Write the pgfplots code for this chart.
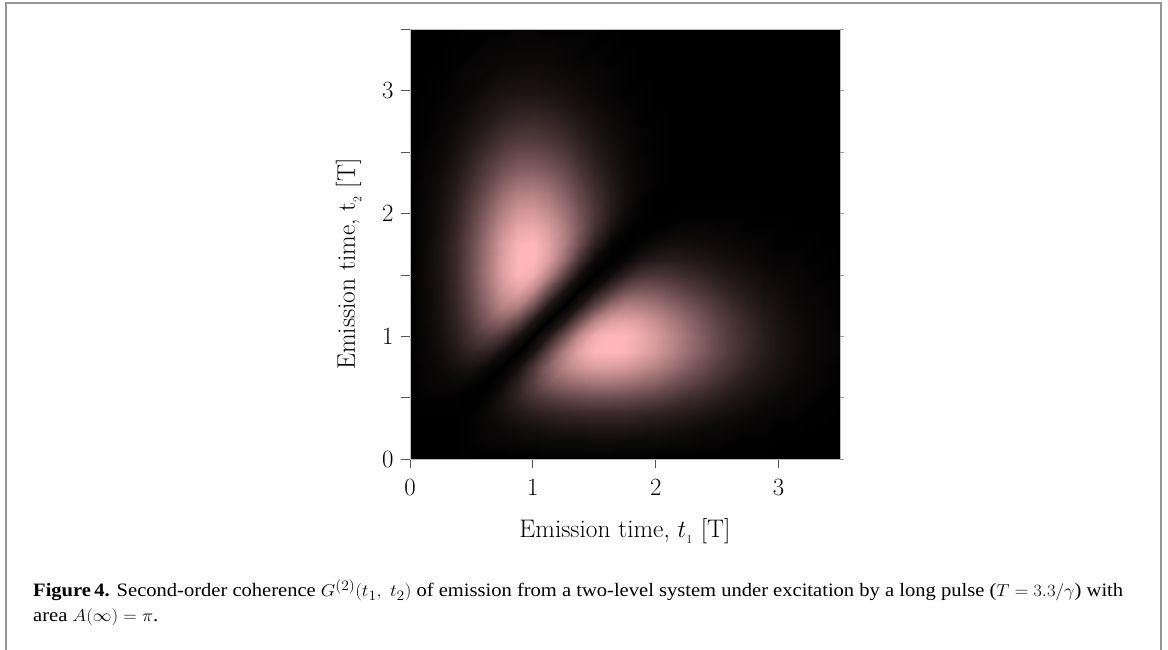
\documentclass[border=0pt]{standalone}
\usepackage{fontspec}
\usepackage{pgfplots}
\pgfplotsset{compat=1.18}
\newfontfamily\capfont{Liberation Serif}
\definecolor{framegray}{RGB}{150,150,150}
\definecolor{tickgray}{RGB}{85,85,85}
\newsavebox\caplineA
\begin{document}
\sbox\caplineA{\capfont\fontsize{19}{23}\selectfont\textbf{Figure\,4.} Second-order coherence $G^{(2)}(t_{1},\ t_{2})$ of emission from a two-level system under excitation by a long pulse ($T=3.3/\gamma$) with}%
\pgfmathsetmacro\capsx{1090/(\wd\caplineA/1.00375)}%
\begin{tikzpicture}[x=1bp,y=1bp]
\path[use as bounding box] (0,0) rectangle (1168,650);
\draw[framegray, line width=1.6bp] (6,0) -- (6,647) -- (1161,647) -- (1161,0);
\node[anchor=base west, inner sep=0] at (33,53) {\scalebox{\capsx}[1]{\usebox\caplineA}};
\node[anchor=base west, inner sep=0] at (33,28) {\scalebox{\capsx}[1]{\capfont\fontsize{19}{23}\selectfont area $A(\infty)=\pi$.}};
\begin{axis}[
  at={(410bp,190.7bp)}, anchor=south west,
  width=430bp, height=430bp, scale only axis,
  view={0}{90},
  xmin=0, xmax=3.5, ymin=0, ymax=3.5,
  xtick={0,1,2,3}, ytick={0,1,2,3}, ztick=\empty,
  minor ytick={0.5,1.5,2.5,3.5},
  xtick pos=left, ytick pos=left,
  tick align=outside,
  major tick length=9bp, minor tick length=9bp,
  every tick/.style={tickgray, line width=0.9bp},
  axis line style={gray!50, line width=0.4bp},
  colormap={pinkmap}{rgb255=(0,0,0) rgb255=(255,183,186)},
  point meta min=0, point meta max=0.96,
  tick label style={font=\fontsize{25.5}{30}\selectfont},
  xticklabel style={yshift=-8bp}, yticklabel style={xshift=-4bp},
  xlabel={Emission time, $t_{_1}$ [T]},
  ylabel={Emission time, t$_{_2}$ [T]},
  every axis x label/.style={at={(axis description cs:0.5,-0.181)}, anchor=base, font=\fontsize{25.5}{30}\selectfont},
  every axis y label/.style={at={(axis description cs:-0.128,0.454)}, rotate=90, anchor=base, font=\fontsize{25.5}{30}\selectfont},
]
\addplot3[surf, shader=interp, z buffer=none, mesh/cols=29] table[row sep=\\] {
x y z\\
0 3.5 0\\ 0.125 3.5 0\\ 0.25 3.5 0\\ 0.375 3.5 0\\ 0.5 3.5 0.01\\ 0.625 3.5 0.01\\ 0.75 3.5 0.01\\ 0.875 3.5 0.02\\ 1 3.5 0.02\\ 1.125 3.5 0.01\\ 1.25 3.5 0.01\\ 1.375 3.5 0.01\\ 1.5 3.5 0.01\\ 1.625 3.5 0\\ 1.75 3.5 0\\ 1.875 3.5 0\\ 2 3.5 0\\ 2.125 3.5 0\\ 2.25 3.5 0\\ 2.375 3.5 0\\ 2.5 3.5 0\\ 2.625 3.5 0\\ 2.75 3.5 0\\ 2.875 3.5 0\\ 3 3.5 0\\ 3.125 3.5 0\\ 3.25 3.5 0\\ 3.375 3.5 0\\ 3.5 3.5 0\\
0 3.375 0\\ 0.125 3.375 0\\ 0.25 3.375 0\\ 0.375 3.375 0.01\\ 0.5 3.375 0.01\\ 0.625 3.375 0.02\\ 0.75 3.375 0.02\\ 0.875 3.375 0.03\\ 1 3.375 0.03\\ 1.125 3.375 0.03\\ 1.25 3.375 0.02\\ 1.375 3.375 0.02\\ 1.5 3.375 0.01\\ 1.625 3.375 0.01\\ 1.75 3.375 0\\ 1.875 3.375 0\\ 2 3.375 0\\ 2.125 3.375 0\\ 2.25 3.375 0\\ 2.375 3.375 0\\ 2.5 3.375 0\\ 2.625 3.375 0\\ 2.75 3.375 0\\ 2.875 3.375 0\\ 3 3.375 0\\ 3.125 3.375 0\\ 3.25 3.375 0\\ 3.375 3.375 0\\ 3.5 3.375 0\\
0 3.25 0\\ 0.125 3.25 0\\ 0.25 3.25 0\\ 0.375 3.25 0.01\\ 0.5 3.25 0.02\\ 0.625 3.25 0.03\\ 0.75 3.25 0.04\\ 0.875 3.25 0.04\\ 1 3.25 0.04\\ 1.125 3.25 0.04\\ 1.25 3.25 0.03\\ 1.375 3.25 0.02\\ 1.5 3.25 0.02\\ 1.625 3.25 0.01\\ 1.75 3.25 0.01\\ 1.875 3.25 0\\ 2 3.25 0\\ 2.125 3.25 0\\ 2.25 3.25 0\\ 2.375 3.25 0\\ 2.5 3.25 0\\ 2.625 3.25 0\\ 2.75 3.25 0\\ 2.875 3.25 0\\ 3 3.25 0\\ 3.125 3.25 0\\ 3.25 3.25 0\\ 3.375 3.25 0\\ 3.5 3.25 0\\
0 3.125 0\\ 0.125 3.125 0\\ 0.25 3.125 0.01\\ 0.375 3.125 0.02\\ 0.5 3.125 0.03\\ 0.625 3.125 0.04\\ 0.75 3.125 0.06\\ 0.875 3.125 0.07\\ 1 3.125 0.07\\ 1.125 3.125 0.06\\ 1.25 3.125 0.05\\ 1.375 3.125 0.04\\ 1.5 3.125 0.03\\ 1.625 3.125 0.02\\ 1.75 3.125 0.01\\ 1.875 3.125 0\\ 2 3.125 0\\ 2.125 3.125 0\\ 2.25 3.125 0\\ 2.375 3.125 0\\ 2.5 3.125 0\\ 2.625 3.125 0\\ 2.75 3.125 0\\ 2.875 3.125 0\\ 3 3.125 0\\ 3.125 3.125 0\\ 3.25 3.125 0\\ 3.375 3.125 0\\ 3.5 3.125 0\\
0 3 0\\ 0.125 3 0\\ 0.25 3 0.01\\ 0.375 3 0.02\\ 0.5 3 0.04\\ 0.625 3 0.07\\ 0.75 3 0.09\\ 0.875 3 0.1\\ 1 3 0.1\\ 1.125 3 0.09\\ 1.25 3 0.08\\ 1.375 3 0.06\\ 1.5 3 0.04\\ 1.625 3 0.02\\ 1.75 3 0.01\\ 1.875 3 0.01\\ 2 3 0\\ 2.125 3 0\\ 2.25 3 0\\ 2.375 3 0\\ 2.5 3 0\\ 2.625 3 0\\ 2.75 3 0\\ 2.875 3 0\\ 3 3 0\\ 3.125 3 0\\ 3.25 3 0\\ 3.375 3 0\\ 3.5 3 0\\
0 2.875 0\\ 0.125 2.875 0.01\\ 0.25 2.875 0.02\\ 0.375 2.875 0.03\\ 0.5 2.875 0.06\\ 0.625 2.875 0.1\\ 0.75 2.875 0.13\\ 0.875 2.875 0.15\\ 1 2.875 0.15\\ 1.125 2.875 0.14\\ 1.25 2.875 0.11\\ 1.375 2.875 0.08\\ 1.5 2.875 0.06\\ 1.625 2.875 0.03\\ 1.75 2.875 0.02\\ 1.875 2.875 0.01\\ 2 2.875 0\\ 2.125 2.875 0\\ 2.25 2.875 0\\ 2.375 2.875 0\\ 2.5 2.875 0\\ 2.625 2.875 0\\ 2.75 2.875 0\\ 2.875 2.875 0\\ 3 2.875 0\\ 3.125 2.875 0\\ 3.25 2.875 0\\ 3.375 2.875 0\\ 3.5 2.875 0\\
0 2.75 0\\ 0.125 2.75 0.01\\ 0.25 2.75 0.02\\ 0.375 2.75 0.05\\ 0.5 2.75 0.09\\ 0.625 2.75 0.13\\ 0.75 2.75 0.18\\ 0.875 2.75 0.21\\ 1 2.75 0.22\\ 1.125 2.75 0.2\\ 1.25 2.75 0.16\\ 1.375 2.75 0.12\\ 1.5 2.75 0.08\\ 1.625 2.75 0.05\\ 1.75 2.75 0.03\\ 1.875 2.75 0.01\\ 2 2.75 0.01\\ 2.125 2.75 0\\ 2.25 2.75 0\\ 2.375 2.75 0\\ 2.5 2.75 0\\ 2.625 2.75 0\\ 2.75 2.75 0\\ 2.875 2.75 0\\ 3 2.75 0\\ 3.125 2.75 0\\ 3.25 2.75 0\\ 3.375 2.75 0\\ 3.5 2.75 0\\
0 2.625 0\\ 0.125 2.625 0.01\\ 0.25 2.625 0.03\\ 0.375 2.625 0.07\\ 0.5 2.625 0.12\\ 0.625 2.625 0.18\\ 0.75 2.625 0.25\\ 0.875 2.625 0.29\\ 1 2.625 0.29\\ 1.125 2.625 0.27\\ 1.25 2.625 0.22\\ 1.375 2.625 0.16\\ 1.5 2.625 0.11\\ 1.625 2.625 0.07\\ 1.75 2.625 0.04\\ 1.875 2.625 0.02\\ 2 2.625 0.01\\ 2.125 2.625 0\\ 2.25 2.625 0\\ 2.375 2.625 0\\ 2.5 2.625 0\\ 2.625 2.625 0\\ 2.75 2.625 0\\ 2.875 2.625 0\\ 3 2.625 0\\ 3.125 2.625 0\\ 3.25 2.625 0\\ 3.375 2.625 0\\ 3.5 2.625 0\\
0 2.5 0\\ 0.125 2.5 0.02\\ 0.25 2.5 0.04\\ 0.375 2.5 0.09\\ 0.5 2.5 0.16\\ 0.625 2.5 0.24\\ 0.75 2.5 0.32\\ 0.875 2.5 0.38\\ 1 2.5 0.38\\ 1.125 2.5 0.35\\ 1.25 2.5 0.29\\ 1.375 2.5 0.21\\ 1.5 2.5 0.14\\ 1.625 2.5 0.09\\ 1.75 2.5 0.05\\ 1.875 2.5 0.02\\ 2 2.5 0.01\\ 2.125 2.5 0\\ 2.25 2.5 0\\ 2.375 2.5 0\\ 2.5 2.5 0\\ 2.625 2.5 0\\ 2.75 2.5 0\\ 2.875 2.5 0\\ 3 2.5 0\\ 3.125 2.5 0\\ 3.25 2.5 0\\ 3.375 2.5 0\\ 3.5 2.5 0\\
0 2.375 0\\ 0.125 2.375 0.02\\ 0.25 2.375 0.05\\ 0.375 2.375 0.11\\ 0.5 2.375 0.2\\ 0.625 2.375 0.31\\ 0.75 2.375 0.41\\ 0.875 2.375 0.48\\ 1 2.375 0.49\\ 1.125 2.375 0.44\\ 1.25 2.375 0.37\\ 1.375 2.375 0.27\\ 1.5 2.375 0.18\\ 1.625 2.375 0.11\\ 1.75 2.375 0.06\\ 1.875 2.375 0.03\\ 2 2.375 0.01\\ 2.125 2.375 0\\ 2.25 2.375 0\\ 2.375 2.375 0\\ 2.5 2.375 0\\ 2.625 2.375 0\\ 2.75 2.375 0\\ 2.875 2.375 0\\ 3 2.375 0\\ 3.125 2.375 0\\ 3.25 2.375 0\\ 3.375 2.375 0\\ 3.5 2.375 0\\
0 2.25 0\\ 0.125 2.25 0.03\\ 0.25 2.25 0.07\\ 0.375 2.25 0.14\\ 0.5 2.25 0.24\\ 0.625 2.25 0.37\\ 0.75 2.25 0.5\\ 0.875 2.25 0.59\\ 1 2.25 0.6\\ 1.125 2.25 0.55\\ 1.25 2.25 0.45\\ 1.375 2.25 0.33\\ 1.5 2.25 0.22\\ 1.625 2.25 0.13\\ 1.75 2.25 0.07\\ 1.875 2.25 0.03\\ 2 2.25 0.01\\ 2.125 2.25 0\\ 2.25 2.25 0\\ 2.375 2.25 0\\ 2.5 2.25 0\\ 2.625 2.25 0\\ 2.75 2.25 0\\ 2.875 2.25 0\\ 3 2.25 0\\ 3.125 2.25 0\\ 3.25 2.25 0\\ 3.375 2.25 0\\ 3.5 2.25 0\\
0 2.125 0\\ 0.125 2.125 0.03\\ 0.25 2.125 0.08\\ 0.375 2.125 0.16\\ 0.5 2.125 0.29\\ 0.625 2.125 0.44\\ 0.75 2.125 0.6\\ 0.875 2.125 0.7\\ 1 2.125 0.71\\ 1.125 2.125 0.65\\ 1.25 2.125 0.53\\ 1.375 2.125 0.39\\ 1.5 2.125 0.26\\ 1.625 2.125 0.15\\ 1.75 2.125 0.07\\ 1.875 2.125 0.02\\ 2 2.125 0\\ 2.125 2.125 0\\ 2.25 2.125 0\\ 2.375 2.125 0\\ 2.5 2.125 0\\ 2.625 2.125 0\\ 2.75 2.125 0\\ 2.875 2.125 0\\ 3 2.125 0\\ 3.125 2.125 0\\ 3.25 2.125 0\\ 3.375 2.125 0\\ 3.5 2.125 0\\
0 2 0\\ 0.125 2 0.04\\ 0.25 2 0.09\\ 0.375 2 0.18\\ 0.5 2 0.33\\ 0.625 2 0.51\\ 0.75 2 0.68\\ 0.875 2 0.8\\ 1 2 0.81\\ 1.125 2 0.74\\ 1.25 2 0.61\\ 1.375 2 0.44\\ 1.5 2 0.28\\ 1.625 2 0.14\\ 1.75 2 0.05\\ 1.875 2 0.01\\ 2 2 0\\ 2.125 2 0\\ 2.25 2 0.01\\ 2.375 2 0.01\\ 2.5 2 0.01\\ 2.625 2 0.01\\ 2.75 2 0.01\\ 2.875 2 0\\ 3 2 0\\ 3.125 2 0\\ 3.25 2 0\\ 3.375 2 0\\ 3.5 2 0\\
0 1.875 0\\ 0.125 1.875 0.04\\ 0.25 1.875 0.1\\ 0.375 1.875 0.2\\ 0.5 1.875 0.36\\ 0.625 1.875 0.56\\ 0.75 1.875 0.75\\ 0.875 1.875 0.88\\ 1 1.875 0.9\\ 1.125 1.875 0.82\\ 1.25 1.875 0.66\\ 1.375 1.875 0.46\\ 1.5 1.875 0.26\\ 1.625 1.875 0.1\\ 1.75 1.875 0.02\\ 1.875 1.875 0\\ 2 1.875 0.01\\ 2.125 1.875 0.02\\ 2.25 1.875 0.03\\ 2.375 1.875 0.03\\ 2.5 1.875 0.02\\ 2.625 1.875 0.02\\ 2.75 1.875 0.01\\ 2.875 1.875 0.01\\ 3 1.875 0.01\\ 3.125 1.875 0\\ 3.25 1.875 0\\ 3.375 1.875 0\\ 3.5 1.875 0\\
0 1.75 0\\ 0.125 1.75 0.04\\ 0.25 1.75 0.11\\ 0.375 1.75 0.22\\ 0.5 1.75 0.39\\ 0.625 1.75 0.6\\ 0.75 1.75 0.81\\ 0.875 1.75 0.94\\ 1 1.75 0.96\\ 1.125 1.75 0.86\\ 1.25 1.75 0.67\\ 1.375 1.75 0.41\\ 1.5 1.75 0.17\\ 1.625 1.75 0.03\\ 1.75 1.75 0\\ 1.875 1.75 0.02\\ 2 1.75 0.05\\ 2.125 1.75 0.07\\ 2.25 1.75 0.07\\ 2.375 1.75 0.06\\ 2.5 1.75 0.05\\ 2.625 1.75 0.04\\ 2.75 1.75 0.03\\ 2.875 1.75 0.02\\ 3 1.75 0.01\\ 3.125 1.75 0.01\\ 3.25 1.75 0.01\\ 3.375 1.75 0\\ 3.5 1.75 0\\
0 1.625 0\\ 0.125 1.625 0.05\\ 0.25 1.625 0.11\\ 0.375 1.625 0.22\\ 0.5 1.625 0.4\\ 0.625 1.625 0.62\\ 0.75 1.625 0.83\\ 0.875 1.625 0.97\\ 1 1.625 0.97\\ 1.125 1.625 0.83\\ 1.25 1.625 0.57\\ 1.375 1.625 0.26\\ 1.5 1.625 0.05\\ 1.625 1.625 0\\ 1.75 1.625 0.03\\ 1.875 1.625 0.1\\ 2 1.625 0.14\\ 2.125 1.625 0.15\\ 2.25 1.625 0.13\\ 2.375 1.625 0.11\\ 2.5 1.625 0.09\\ 2.625 1.625 0.07\\ 2.75 1.625 0.05\\ 2.875 1.625 0.03\\ 3 1.625 0.02\\ 3.125 1.625 0.02\\ 3.25 1.625 0.01\\ 3.375 1.625 0.01\\ 3.5 1.625 0\\
0 1.5 0\\ 0.125 1.5 0.05\\ 0.25 1.5 0.11\\ 0.375 1.5 0.22\\ 0.5 1.5 0.4\\ 0.625 1.5 0.62\\ 0.75 1.5 0.83\\ 0.875 1.5 0.95\\ 1 1.5 0.91\\ 1.125 1.5 0.69\\ 1.25 1.5 0.35\\ 1.375 1.5 0.08\\ 1.5 1.5 0\\ 1.625 1.5 0.05\\ 1.75 1.5 0.17\\ 1.875 1.5 0.26\\ 2 1.5 0.28\\ 2.125 1.5 0.26\\ 2.25 1.5 0.22\\ 2.375 1.5 0.18\\ 2.5 1.5 0.14\\ 2.625 1.5 0.11\\ 2.75 1.5 0.08\\ 2.875 1.5 0.06\\ 3 1.5 0.04\\ 3.125 1.5 0.03\\ 3.25 1.5 0.02\\ 3.375 1.5 0.01\\ 3.5 1.5 0.01\\
0 1.375 0\\ 0.125 1.375 0.04\\ 0.25 1.375 0.1\\ 0.375 1.375 0.21\\ 0.5 1.375 0.38\\ 0.625 1.375 0.59\\ 0.75 1.375 0.78\\ 0.875 1.375 0.86\\ 1 1.375 0.73\\ 1.125 1.375 0.41\\ 1.25 1.375 0.11\\ 1.375 1.375 0\\ 1.5 1.375 0.08\\ 1.625 1.375 0.26\\ 1.75 1.375 0.41\\ 1.875 1.375 0.46\\ 2 1.375 0.44\\ 2.125 1.375 0.39\\ 2.25 1.375 0.33\\ 2.375 1.375 0.27\\ 2.5 1.375 0.21\\ 2.625 1.375 0.16\\ 2.75 1.375 0.12\\ 2.875 1.375 0.08\\ 3 1.375 0.06\\ 3.125 1.375 0.04\\ 3.25 1.375 0.02\\ 3.375 1.375 0.02\\ 3.5 1.375 0.01\\
0 1.25 0\\ 0.125 1.25 0.04\\ 0.25 1.25 0.1\\ 0.375 1.25 0.2\\ 0.5 1.25 0.35\\ 0.625 1.25 0.54\\ 0.75 1.25 0.69\\ 0.875 1.25 0.67\\ 1 1.25 0.42\\ 1.125 1.25 0.12\\ 1.25 1.25 0\\ 1.375 1.25 0.11\\ 1.5 1.25 0.35\\ 1.625 1.25 0.57\\ 1.75 1.25 0.67\\ 1.875 1.25 0.66\\ 2 1.25 0.61\\ 2.125 1.25 0.53\\ 2.25 1.25 0.45\\ 2.375 1.25 0.37\\ 2.5 1.25 0.29\\ 2.625 1.25 0.22\\ 2.75 1.25 0.16\\ 2.875 1.25 0.11\\ 3 1.25 0.08\\ 3.125 1.25 0.05\\ 3.25 1.25 0.03\\ 3.375 1.25 0.02\\ 3.5 1.25 0.01\\
0 1.125 0\\ 0.125 1.125 0.04\\ 0.25 1.125 0.09\\ 0.375 1.125 0.18\\ 0.5 1.125 0.31\\ 0.625 1.125 0.46\\ 0.75 1.125 0.51\\ 0.875 1.125 0.37\\ 1 1.125 0.12\\ 1.125 1.125 0\\ 1.25 1.125 0.12\\ 1.375 1.125 0.41\\ 1.5 1.125 0.69\\ 1.625 1.125 0.83\\ 1.75 1.125 0.86\\ 1.875 1.125 0.82\\ 2 1.125 0.74\\ 2.125 1.125 0.65\\ 2.25 1.125 0.55\\ 2.375 1.125 0.44\\ 2.5 1.125 0.35\\ 2.625 1.125 0.27\\ 2.75 1.125 0.2\\ 2.875 1.125 0.14\\ 3 1.125 0.09\\ 3.125 1.125 0.06\\ 3.25 1.125 0.04\\ 3.375 1.125 0.03\\ 3.5 1.125 0.01\\
0 1 0\\ 0.125 1 0.03\\ 0.25 1 0.08\\ 0.375 1 0.15\\ 0.5 1 0.26\\ 0.625 1 0.33\\ 0.75 1 0.28\\ 0.875 1 0.1\\ 1 1 0\\ 1.125 1 0.12\\ 1.25 1 0.42\\ 1.375 1 0.73\\ 1.5 1 0.91\\ 1.625 1 0.97\\ 1.75 1 0.96\\ 1.875 1 0.9\\ 2 1 0.81\\ 2.125 1 0.71\\ 2.25 1 0.6\\ 2.375 1 0.49\\ 2.5 1 0.38\\ 2.625 1 0.29\\ 2.75 1 0.22\\ 2.875 1 0.15\\ 3 1 0.1\\ 3.125 1 0.07\\ 3.25 1 0.04\\ 3.375 1 0.03\\ 3.5 1 0.02\\
0 0.875 0\\ 0.125 0.875 0.03\\ 0.25 0.875 0.06\\ 0.375 0.875 0.12\\ 0.5 0.875 0.18\\ 0.625 0.875 0.17\\ 0.75 0.875 0.07\\ 0.875 0.875 0\\ 1 0.875 0.1\\ 1.125 0.875 0.37\\ 1.25 0.875 0.67\\ 1.375 0.875 0.86\\ 1.5 0.875 0.95\\ 1.625 0.875 0.97\\ 1.75 0.875 0.94\\ 1.875 0.875 0.88\\ 2 0.875 0.8\\ 2.125 0.875 0.7\\ 2.25 0.875 0.59\\ 2.375 0.875 0.48\\ 2.5 0.875 0.38\\ 2.625 0.875 0.29\\ 2.75 0.875 0.21\\ 2.875 0.875 0.15\\ 3 0.875 0.1\\ 3.125 0.875 0.07\\ 3.25 0.875 0.04\\ 3.375 0.875 0.03\\ 3.5 0.875 0.02\\
0 0.75 0\\ 0.125 0.75 0.02\\ 0.25 0.75 0.05\\ 0.375 0.75 0.08\\ 0.5 0.75 0.09\\ 0.625 0.75 0.04\\ 0.75 0.75 0\\ 0.875 0.75 0.07\\ 1 0.75 0.28\\ 1.125 0.75 0.51\\ 1.25 0.75 0.69\\ 1.375 0.75 0.78\\ 1.5 0.75 0.83\\ 1.625 0.75 0.83\\ 1.75 0.75 0.81\\ 1.875 0.75 0.75\\ 2 0.75 0.68\\ 2.125 0.75 0.6\\ 2.25 0.75 0.5\\ 2.375 0.75 0.41\\ 2.5 0.75 0.32\\ 2.625 0.75 0.25\\ 2.75 0.75 0.18\\ 2.875 0.75 0.13\\ 3 0.75 0.09\\ 3.125 0.75 0.06\\ 3.25 0.75 0.04\\ 3.375 0.75 0.02\\ 3.5 0.75 0.01\\
0 0.625 0\\ 0.125 0.625 0.02\\ 0.25 0.625 0.03\\ 0.375 0.625 0.04\\ 0.5 0.625 0.02\\ 0.625 0.625 0\\ 0.75 0.625 0.04\\ 0.875 0.625 0.17\\ 1 0.625 0.33\\ 1.125 0.625 0.46\\ 1.25 0.625 0.54\\ 1.375 0.625 0.59\\ 1.5 0.625 0.62\\ 1.625 0.625 0.62\\ 1.75 0.625 0.6\\ 1.875 0.625 0.56\\ 2 0.625 0.51\\ 2.125 0.625 0.44\\ 2.25 0.625 0.37\\ 2.375 0.625 0.31\\ 2.5 0.625 0.24\\ 2.625 0.625 0.18\\ 2.75 0.625 0.13\\ 2.875 0.625 0.1\\ 3 0.625 0.07\\ 3.125 0.625 0.04\\ 3.25 0.625 0.03\\ 3.375 0.625 0.02\\ 3.5 0.625 0.01\\
0 0.5 0\\ 0.125 0.5 0.01\\ 0.25 0.5 0.01\\ 0.375 0.5 0.01\\ 0.5 0.5 0\\ 0.625 0.5 0.02\\ 0.75 0.5 0.09\\ 0.875 0.5 0.18\\ 1 0.5 0.26\\ 1.125 0.5 0.31\\ 1.25 0.5 0.35\\ 1.375 0.5 0.38\\ 1.5 0.5 0.4\\ 1.625 0.5 0.4\\ 1.75 0.5 0.39\\ 1.875 0.5 0.36\\ 2 0.5 0.33\\ 2.125 0.5 0.29\\ 2.25 0.5 0.24\\ 2.375 0.5 0.2\\ 2.5 0.5 0.16\\ 2.625 0.5 0.12\\ 2.75 0.5 0.09\\ 2.875 0.5 0.06\\ 3 0.5 0.04\\ 3.125 0.5 0.03\\ 3.25 0.5 0.02\\ 3.375 0.5 0.01\\ 3.5 0.5 0.01\\
0 0.375 0\\ 0.125 0.375 0\\ 0.25 0.375 0\\ 0.375 0.375 0\\ 0.5 0.375 0.01\\ 0.625 0.375 0.04\\ 0.75 0.375 0.08\\ 0.875 0.375 0.12\\ 1 0.375 0.15\\ 1.125 0.375 0.18\\ 1.25 0.375 0.2\\ 1.375 0.375 0.21\\ 1.5 0.375 0.22\\ 1.625 0.375 0.22\\ 1.75 0.375 0.22\\ 1.875 0.375 0.2\\ 2 0.375 0.18\\ 2.125 0.375 0.16\\ 2.25 0.375 0.14\\ 2.375 0.375 0.11\\ 2.5 0.375 0.09\\ 2.625 0.375 0.07\\ 2.75 0.375 0.05\\ 2.875 0.375 0.03\\ 3 0.375 0.02\\ 3.125 0.375 0.02\\ 3.25 0.375 0.01\\ 3.375 0.375 0.01\\ 3.5 0.375 0\\
0 0.25 0\\ 0.125 0.25 0\\ 0.25 0.25 0\\ 0.375 0.25 0\\ 0.5 0.25 0.01\\ 0.625 0.25 0.03\\ 0.75 0.25 0.05\\ 0.875 0.25 0.06\\ 1 0.25 0.08\\ 1.125 0.25 0.09\\ 1.25 0.25 0.1\\ 1.375 0.25 0.1\\ 1.5 0.25 0.11\\ 1.625 0.25 0.11\\ 1.75 0.25 0.11\\ 1.875 0.25 0.1\\ 2 0.25 0.09\\ 2.125 0.25 0.08\\ 2.25 0.25 0.07\\ 2.375 0.25 0.05\\ 2.5 0.25 0.04\\ 2.625 0.25 0.03\\ 2.75 0.25 0.02\\ 2.875 0.25 0.02\\ 3 0.25 0.01\\ 3.125 0.25 0.01\\ 3.25 0.25 0\\ 3.375 0.25 0\\ 3.5 0.25 0\\
0 0.125 0\\ 0.125 0.125 0\\ 0.25 0.125 0\\ 0.375 0.125 0\\ 0.5 0.125 0.01\\ 0.625 0.125 0.02\\ 0.75 0.125 0.02\\ 0.875 0.125 0.03\\ 1 0.125 0.03\\ 1.125 0.125 0.04\\ 1.25 0.125 0.04\\ 1.375 0.125 0.04\\ 1.5 0.125 0.05\\ 1.625 0.125 0.05\\ 1.75 0.125 0.04\\ 1.875 0.125 0.04\\ 2 0.125 0.04\\ 2.125 0.125 0.03\\ 2.25 0.125 0.03\\ 2.375 0.125 0.02\\ 2.5 0.125 0.02\\ 2.625 0.125 0.01\\ 2.75 0.125 0.01\\ 2.875 0.125 0.01\\ 3 0.125 0\\ 3.125 0.125 0\\ 3.25 0.125 0\\ 3.375 0.125 0\\ 3.5 0.125 0\\
0 0 0\\ 0.125 0 0\\ 0.25 0 0\\ 0.375 0 0\\ 0.5 0 0\\ 0.625 0 0\\ 0.75 0 0\\ 0.875 0 0\\ 1 0 0\\ 1.125 0 0\\ 1.25 0 0\\ 1.375 0 0\\ 1.5 0 0\\ 1.625 0 0\\ 1.75 0 0\\ 1.875 0 0\\ 2 0 0\\ 2.125 0 0\\ 2.25 0 0\\ 2.375 0 0\\ 2.5 0 0\\ 2.625 0 0\\ 2.75 0 0\\ 2.875 0 0\\ 3 0 0\\ 3.125 0 0\\ 3.25 0 0\\ 3.375 0 0\\ 3.5 0 0\\
};
\end{axis}
\begin{axis}[
  at={(410bp,190.7bp)}, anchor=south west,
  width=430bp, height=430bp, scale only axis,
  xmin=0, xmax=3.5, ymin=0, ymax=3.5,
  axis x line=none, axis y line*=right,
  y axis line style={draw=none},
  ytick={0,0.5,1,1.5,2,2.5,3,3.5}, yticklabels={},
  tick align=outside, major tick length=4bp,
  every tick/.style={tickgray!60, line width=0.8bp},
]
\end{axis}
\end{tikzpicture}
\end{document}
